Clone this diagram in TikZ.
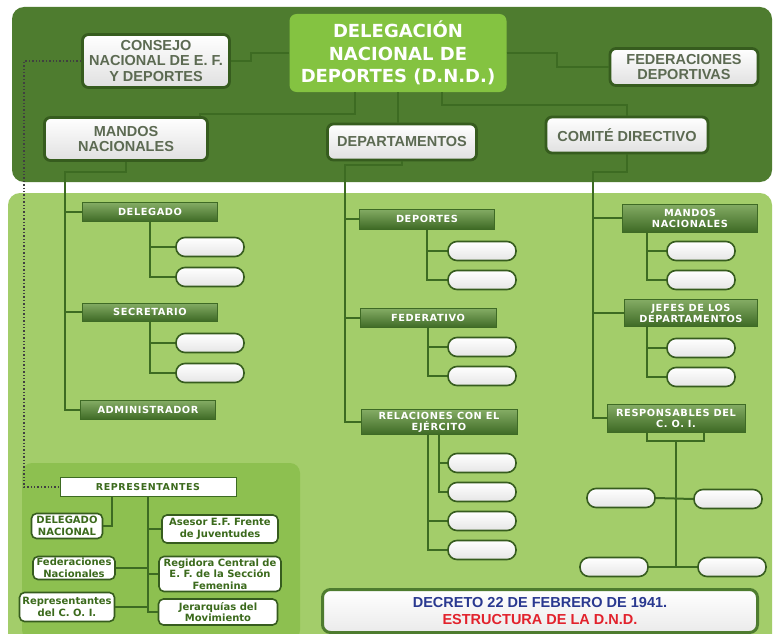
\documentclass[tikz,border=0pt]{standalone}
\usepackage{fontspec}
\setmainfont{Liberation Sans}
\newfontfamily\vfont{DejaVu Sans}
\newfontfamily\vbarfont[LetterSpace=6]{DejaVu Sans}
\usepackage{tikz}
\usetikzlibrary{shapes,positioning,calc}

\definecolor{topgreen}{HTML}{4E7C2F}
\definecolor{panelgreen}{HTML}{A3CD6A}
\definecolor{boxgreen}{HTML}{8DC050}
\definecolor{dndgreen}{HTML}{84C341}
\definecolor{linegreen}{HTML}{3D6B22}
\definecolor{bardark}{HTML}{3E6A25}
\definecolor{barlight}{HTML}{84AC64}
\definecolor{topgray}{HTML}{5C6A52}
\definecolor{edgegreen}{HTML}{365C1E}
\definecolor{repgreen}{HTML}{3B6A1C}
\definecolor{decblue}{HTML}{2A3990}
\definecolor{decred}{HTML}{E2222C}

\tikzset{
  conn/.style={draw=linegreen, line width=2pt},
  dotline/.style={draw=black!75, dotted, line width=1.4pt},
  topbox/.style={draw=edgegreen, line width=2.8pt, rounded corners=6pt, top color=white, bottom color=black!12,
    text=topgray, font=\bfseries\fontsize{14.5}{15.5}\selectfont, align=center, inner sep=0pt},
  bar/.style={draw=bardark, line width=0.6pt, top color=barlight, bottom color=bardark, text=white,
    font=\vbarfont\bfseries\fontsize{9.8}{11}\selectfont, align=center, inner sep=0pt},
  blank/.style={draw=edgegreen, line width=1.6pt, rounded corners=9pt, top color=white, bottom color=black!10,
    minimum width=68pt, minimum height=19pt, inner sep=0pt},
  repbox/.style={draw=edgegreen, line width=1.6pt, rounded corners=5pt, fill=white, text=repgreen,
    font=\vfont\bfseries\fontsize{10}{11.5}\selectfont, align=center, inner sep=0pt}
}

\begin{document}
\begin{tikzpicture}[x=1pt, y=-1pt]
  \useasboundingbox (0,0) rectangle (776,634);
  \clip (0,0) rectangle (776,634);
  \fill[white] (0,0) rectangle (776,634);
  \fill[topgreen, rounded corners=12pt] (12,7) rectangle (772,182);
  \fill[panelgreen, rounded corners=12pt] (8,193) rectangle (772,660);
  \fill[boxgreen, rounded corners=10pt] (22,463) rectangle (300,640);

  \node (dnd) at (398,53) [fill=dndgreen, rounded corners=7pt, minimum width=217pt, minimum height=78pt,
    inner sep=0pt, text=white, align=center, font=\vfont\bfseries\fontsize{18}{22.5}\selectfont]
    {DELEGACIÓN\\NACIONAL DE\\DEPORTES (D.N.D.)};
  \node (consejo) at (156,61) [topbox, minimum width=147pt, minimum height=53pt] {CONSEJO\\NACIONAL DE E. F.\\Y DEPORTES};
  \node (feder) at (684,67) [topbox, minimum width=148pt, minimum height=37pt] {FEDERACIONES\\DEPORTIVAS};
  \node (mandos) at (126,139) [topbox, minimum width=163pt, minimum height=43pt] {MANDOS\\NACIONALES};
  \node (depart) at (402,142) [topbox, minimum width=149pt, minimum height=36pt] {DEPARTAMENTOS};
  \node (comite) at (627,135) [topbox, minimum width=162pt, minimum height=36pt] {COMITÉ DIRECTIVO};

  \draw[conn] (consejo.east) -- ++(20,0) |- (dnd.west);
  \draw[conn] (dnd.east) -- ++(50,0) |- (feder.west);
  \draw[conn] ([xshift=-43pt]dnd.south) -- ++(0,22) -| ([xshift=74pt]mandos.north);
  \draw[conn] (dnd.south) -- (dnd.south |- depart.north);
  \draw[conn] ([xshift=44pt]dnd.south) -- ++(0,13) -| (comite.north);

  \node (delegado) at (150,212) [bar, minimum width=135pt, minimum height=19pt] {DELEGADO};
  \node (secret) at (150,312) [bar, minimum width=135pt, minimum height=18pt] {SECRETARIO};
  \node (admin) at (148,410) [bar, minimum width=135pt, minimum height=19pt] {ADMINISTRADOR};
  \node (deportes) at (427,219) [bar, minimum width=135pt, minimum height=20pt] {DEPORTES};
  \node (federativo) at (428,318) [bar, minimum width=136pt, minimum height=19pt] {FEDERATIVO};
  \node (relacion) at (439,422) [bar, minimum width=156pt, minimum height=25pt] {RELACIONES CON EL\\EJÉRCITO};
  \node (mnac) at (690,218) [bar, minimum width=135pt, minimum height=28pt] {MANDOS\\NACIONALES};
  \node (jefes) at (691,313) [bar, minimum width=133pt, minimum height=27pt] {JEFES DE LOS\\DEPARTAMENTOS};
  \node (resp) at (676,418) [bar, minimum width=138pt, minimum height=28pt] {RESPONSABLES DEL\\C. O. I.};

  \foreach \n/\x/\y in {dl1/210/247, dl2/210/277, sc1/210/343, sc2/210/373,
      dp1/482/251, dp2/482/280, fd1/482/347, fd2/482/376,
      rl1/482/463, rl2/482/492, rl3/482/521, rl4/482/550,
      mn1/701/251, mn2/701/280, jf1/701/348, jf2/701/377,
      rs1/621/498, rs2/728/499, rs3/614/567, rs4/732/567}
    \node[blank] (\n) at (\x,\y) {};

  \coordinate (ltrunk) at (65,172);
  \draw[conn] (mandos.south) |- (ltrunk) -- (ltrunk |- admin.west) -- (admin.west);
  \draw[conn] (ltrunk |- delegado.west) -- (delegado.west);
  \draw[conn] (ltrunk |- secret.west) -- (secret.west);
  \draw[conn] (delegado.south) |- (dl1.west);
  \draw[conn] (delegado.south) |- (dl2.west);
  \draw[conn] (secret.south) |- (sc1.west);
  \draw[conn] (secret.south) |- (sc2.west);

  \coordinate (mtrunk) at (345,165);
  \draw[conn] (depart.south) |- (mtrunk) -- (mtrunk |- relacion.west) -- (relacion.west);
  \draw[conn] (mtrunk |- deportes.west) -- (deportes.west);
  \draw[conn] (mtrunk |- federativo.west) -- (federativo.west);
  \draw[conn] (deportes.south) |- (dp1.west);
  \draw[conn] (deportes.south) |- (dp2.west);
  \draw[conn] (federativo.south) |- (fd1.west);
  \draw[conn] (federativo.south) |- (fd2.west);
  \draw[conn] (relacion.south) |- (rl1.west);
  \draw[conn] (relacion.south) |- (rl2.west);
  \draw[conn] ([xshift=-11pt]relacion.south) |- (rl3.west);
  \draw[conn] ([xshift=-11pt]relacion.south) |- (rl4.west);

  \coordinate (rtrunk) at (593,172);
  \draw[conn] (comite.south) |- (rtrunk) -- (rtrunk |- resp.west) -- (resp.west);
  \draw[conn] (rtrunk |- mnac.west) -- (mnac.west);
  \draw[conn] (rtrunk |- jefes.west) -- (jefes.west);
  \draw[conn] ([xshift=-43pt]mnac.south) |- (mn1.west);
  \draw[conn] ([xshift=-43pt]mnac.south) |- (mn2.west);
  \draw[conn] ([xshift=-44pt]jefes.south) |- (jf1.west);
  \draw[conn] ([xshift=-44pt]jefes.south) |- (jf2.west);
  \coordinate (rjoin) at ($(resp.south)+(0,9)$);
  \draw[conn] ([xshift=-29pt]resp.south) -- ++(0,9) -- ++(57,0) -- ++(0,-9);
  \draw[conn] (rjoin) -- (rjoin |- rs3.east);
  \draw[conn] (rs1.east) -- (rs2.west);
  \draw[conn] (rs3.east) -- (rs4.west);

  \node (rep) at (148,487) [draw=linegreen, line width=1pt, fill=white, minimum width=176pt, minimum height=19pt,
    inner sep=0pt, text=repgreen, font=\vbarfont\bfseries\fontsize{9.5}{10}\selectfont] {REPRESENTANTES};
  \node (delnac) at (67,526) [repbox, minimum width=71pt, minimum height=25pt] {DELEGADO\\NACIONAL};
  \node (asesor) at (220,529) [repbox, minimum width=116pt, minimum height=28pt] {Asesor E.F. Frente\\de Juventudes};
  \node (fednac) at (74,568) [repbox, minimum width=82pt, minimum height=23pt] {Federaciones\\Nacionales};
  \node (regidora) at (220,574) [repbox, minimum width=122pt, minimum height=35pt] {Regidora Central de\\E. F. de la Sección\\Femenina};
  \node (repcoi) at (67,607) [repbox, minimum width=95pt, minimum height=29pt] {Representantes\\del C. O. I.};
  \node (jerarq) at (218,612) [repbox, minimum width=119pt, minimum height=26pt] {Jerarquías del\\Movimiento};

  \draw[dotline] (consejo.west) -- ++(-57,0) |- (rep.west);
  \draw[conn] ([xshift=-36pt]rep.south) |- (delnac.east);
  \draw[conn] (rep.south) -- (rep.south |- jerarq.west) -- (jerarq.west);
  \draw[conn] (rep.south |- asesor.west) -- (asesor.west);
  \draw[conn] (rep.south |- regidora.west) -- (regidora.west);
  \draw[conn] (fednac.east) -- (fednac.east -| rep.south);
  \draw[conn] (repcoi.east) -- (repcoi.east -| rep.south);

  \node (decreto) at (540,611) [draw=topgreen, line width=3pt, rounded corners=8pt, top color=white, bottom color=black!8,
    minimum width=435pt, minimum height=43pt, inner sep=0pt, align=center, font=\bfseries\fontsize{14.5}{17}\selectfont]
    {\textcolor{decblue}{DECRETO 22 DE FEBRERO DE 1941.}\\\textcolor{decred}{ESTRUCTURA DE LA D.N.D.}};
\end{tikzpicture}
\end{document}
